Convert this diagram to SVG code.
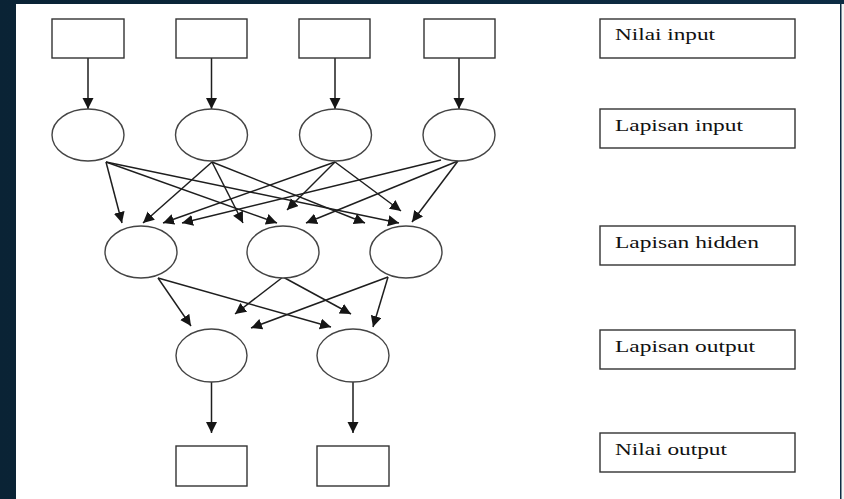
<svg xmlns="http://www.w3.org/2000/svg" width="844" height="499" viewBox="0 0 844 499">
  <defs>
    <linearGradient id="bg" x1="0" y1="0" x2="1" y2="0">
      <stop offset="0" stop-color="#0a2335"/>
      <stop offset="1" stop-color="#0d2c44"/>
    </linearGradient>
    <marker id="arrow" markerUnits="userSpaceOnUse" markerWidth="12" markerHeight="12" refX="11" refY="5.5" orient="auto">
      <path d="M0,0 L11,5.5 L0,11 Z" fill="#151515"/>
    </marker>
  </defs>
  <style>
    .box { fill: #ffffff; stroke: #333333; stroke-width: 1.4; }
    .node { fill: #ffffff; stroke: #444444; stroke-width: 1.4; }
    .edge { fill: none; stroke: #1e1e1e; stroke-width: 1.5; marker-end: url(#arrow); }
    .label { font-family: "Liberation Serif", "Times New Roman", serif; font-size: 17.5px; fill: #111111; }
  </style>

  <!-- backdrop and white page -->
  <rect x="0" y="0" width="844" height="499" fill="url(#bg)"/>
  <rect x="16" y="4" width="824" height="495" fill="#ffffff"/>
  <rect x="841.5" y="4" width="2.5" height="495" fill="#f4f4f4"/>

  <!-- connectors -->
  <g id="connectors">
    <!-- input values to input layer -->
    <line class="edge" x1="88" y1="58" x2="88" y2="109"/>
    <line class="edge" x1="211.5" y1="58" x2="211.5" y2="109"/>
    <line class="edge" x1="335" y1="58" x2="335" y2="109"/>
    <line class="edge" x1="459" y1="58" x2="459" y2="109"/>

    <!-- input layer to hidden layer -->
    <line class="edge" x1="106" y1="162" x2="122" y2="223"/>
    <line class="edge" x1="106" y1="162" x2="277" y2="223"/>
    <line class="edge" x1="106" y1="162" x2="399" y2="223"/>

    <line class="edge" x1="212" y1="162" x2="143" y2="223"/>
    <line class="edge" x1="212" y1="162" x2="243" y2="223"/>
    <line class="edge" x1="212" y1="162" x2="365" y2="223"/>

    <line class="edge" x1="335" y1="162" x2="163" y2="223"/>
    <line class="edge" x1="335" y1="162" x2="287" y2="210"/>
    <line class="edge" x1="335" y1="162" x2="401" y2="211"/>

    <line class="edge" x1="441" y1="160" x2="182" y2="223"/>
    <line class="edge" x1="458" y1="161" x2="306" y2="223"/>
    <line class="edge" x1="458" y1="161" x2="412" y2="222"/>

    <!-- hidden layer to output layer -->
    <line class="edge" x1="158" y1="278" x2="191" y2="326"/>
    <line class="edge" x1="158" y1="278" x2="331" y2="327"/>
    <line class="edge" x1="283" y1="277" x2="235" y2="314"/>
    <line class="edge" x1="283" y1="277" x2="351" y2="314"/>
    <line class="edge" x1="388" y1="277" x2="251" y2="328"/>
    <line class="edge" x1="388" y1="277" x2="373" y2="327"/>

    <!-- output layer to output values -->
    <line class="edge" x1="211.5" y1="382" x2="211.5" y2="433"/>
    <line class="edge" x1="353" y1="382" x2="353" y2="433"/>
  </g>

  <!-- input value boxes -->
  <g id="in-value-1"><rect class="box" x="52" y="19" width="72" height="39"/></g>
  <g id="in-value-2"><rect class="box" x="176" y="19" width="71" height="39"/></g>
  <g id="in-value-3"><rect class="box" x="299" y="19" width="71" height="39"/></g>
  <g id="in-value-4"><rect class="box" x="424" y="19" width="71" height="39"/></g>

  <!-- input layer -->
  <g id="in-node-1"><ellipse class="node" cx="88" cy="135" rx="36" ry="26"/></g>
  <g id="in-node-2"><ellipse class="node" cx="211.5" cy="135" rx="36" ry="26"/></g>
  <g id="in-node-3"><ellipse class="node" cx="335.5" cy="135" rx="36" ry="26"/></g>
  <g id="in-node-4"><ellipse class="node" cx="459" cy="135" rx="36" ry="26"/></g>

  <!-- hidden layer -->
  <g id="hidden-node-1"><ellipse class="node" cx="141" cy="252" rx="36" ry="26"/></g>
  <g id="hidden-node-2"><ellipse class="node" cx="283" cy="252" rx="36" ry="26"/></g>
  <g id="hidden-node-3"><ellipse class="node" cx="406" cy="252" rx="36" ry="26"/></g>

  <!-- output layer -->
  <g id="out-node-1"><ellipse class="node" cx="211.5" cy="355.5" rx="35.5" ry="26.5"/></g>
  <g id="out-node-2"><ellipse class="node" cx="353" cy="355.5" rx="36" ry="26.5"/></g>

  <!-- output value boxes -->
  <g id="out-value-1"><rect class="box" x="176" y="446" width="71" height="40"/></g>
  <g id="out-value-2"><rect class="box" x="317" y="446" width="72" height="40"/></g>

  <!-- legend -->
  <g id="legend-nilai-input">
    <rect class="box" x="600" y="19" width="195" height="39"/>
    <text class="label" x="615" y="39.5" textLength="100" lengthAdjust="spacingAndGlyphs">Nilai input</text>
  </g>
  <g id="legend-lapisan-input">
    <rect class="box" x="600" y="109" width="195" height="39"/>
    <text class="label" x="615" y="131" textLength="128" lengthAdjust="spacingAndGlyphs">Lapisan input</text>
  </g>
  <g id="legend-lapisan-hidden">
    <rect class="box" x="600" y="226" width="195" height="39"/>
    <text class="label" x="615" y="248" textLength="144" lengthAdjust="spacingAndGlyphs">Lapisan hidden</text>
  </g>
  <g id="legend-lapisan-output">
    <rect class="box" x="600" y="330" width="195" height="39"/>
    <text class="label" x="615" y="352" textLength="140" lengthAdjust="spacingAndGlyphs">Lapisan output</text>
  </g>
  <g id="legend-nilai-output">
    <rect class="box" x="600" y="433" width="195" height="39"/>
    <text class="label" x="615" y="454.5" textLength="112" lengthAdjust="spacingAndGlyphs">Nilai output</text>
  </g>
</svg>
